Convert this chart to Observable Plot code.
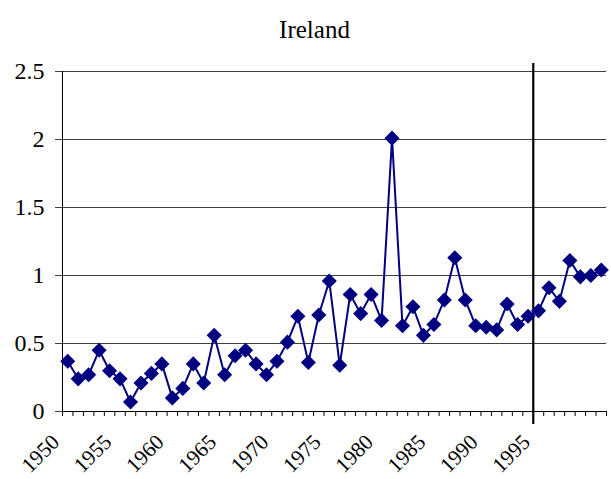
<!DOCTYPE html>
<html>
<head>
<meta charset="utf-8">
<script src="https://cdn.jsdelivr.net/npm/d3@7"></script>
<script src="https://cdn.jsdelivr.net/npm/@observablehq/plot@0.6"></script>
<style>
  html, body { margin: 0; padding: 0; background: #fff; }
  svg, svg text, svg g { font-family: "Liberation Serif", "Times New Roman", serif !important; font-variant-numeric: normal !important; }
</style>
</head>
<body>
<div id="chart"></div>
<script>
const title = "Ireland";
const years = d3.range(1950, 2002);
const values = [
  0.37, 0.24, 0.27, 0.45, 0.30, 0.24, 0.07, 0.21, 0.28, 0.35,
  0.10, 0.17, 0.35, 0.21, 0.56, 0.27, 0.41, 0.45, 0.35, 0.27,
  0.37, 0.51, 0.70, 0.36, 0.71, 0.96, 0.34, 0.86, 0.72, 0.86,
  0.67, 2.01, 0.63, 0.77, 0.56, 0.64, 0.82, 1.13, 0.82, 0.63,
  0.62, 0.60, 0.79, 0.64, 0.70, 0.74, 0.91, 0.81, 1.11, 0.99,
  1.00, 1.04
];
const yTicks = [0, 0.5, 1, 1.5, 2, 2.5];
const xLabelTicks = [1950, 1955, 1960, 1965, 1970, 1975, 1980, 1985, 1990, 1995];
const breakYear = 1994.5;

const data = years.map((year, i) => ({year, value: values[i]}));
const boundaries = years.map(y => y - 0.5).concat([years[years.length - 1] + 0.5]);

const font = "Liberation Serif";

const chart = Plot.plot({
  width: 611,
  height: 479,
  marginLeft: 62,
  marginRight: 5,
  marginTop: 71,
  marginBottom: 68,
  style: {fontFamily: font, background: "#fff", overflow: "visible"},
  x: {domain: [boundaries[0], boundaries[boundaries.length - 1]]},
  y: {domain: [0, 2.5]},
  marks: [
    Plot.gridY(yTicks, {stroke: "#404040", strokeOpacity: 1, strokeWidth: 1}),
    Plot.axisY(yTicks, {tickSize: 7, tickPadding: 11, fontSize: 24, fontFamily: font, tickFormat: d => String(d), label: null, stroke: "#404040"}),
    Plot.ruleY([0], {stroke: "#000", strokeWidth: 1}),
    Plot.ruleX([boundaries[0]], {stroke: "#000", strokeWidth: 1}),
    Plot.axisX(boundaries, {tickSize: 5, tickFormat: () => "", label: null, stroke: "#000"}),
    Plot.axisX(xLabelTicks, {tickSize: 0, tickRotate: -45, tickPadding: 27, dx: -12, fontSize: 21.5, fontFamily: font, tickFormat: d => String(d), label: null}),
    Plot.ruleX([breakYear], {stroke: "#000", strokeWidth: 2.2, insetTop: -8, insetBottom: -13}),
    Plot.line(data, {x: "year", y: "value", stroke: "#000080", strokeWidth: 2}),
    Plot.dot(data, {x: "year", y: "value", symbol: "diamond2", r: 6.8, fill: "#000080", stroke: "none"}),
    Plot.text([title], {frameAnchor: "top", dy: -51, dx: -20, fontSize: 25, fontFamily: font, fill: "#000"})
  ]
});
document.getElementById("chart").appendChild(chart);
</script>
</body>
</html>
